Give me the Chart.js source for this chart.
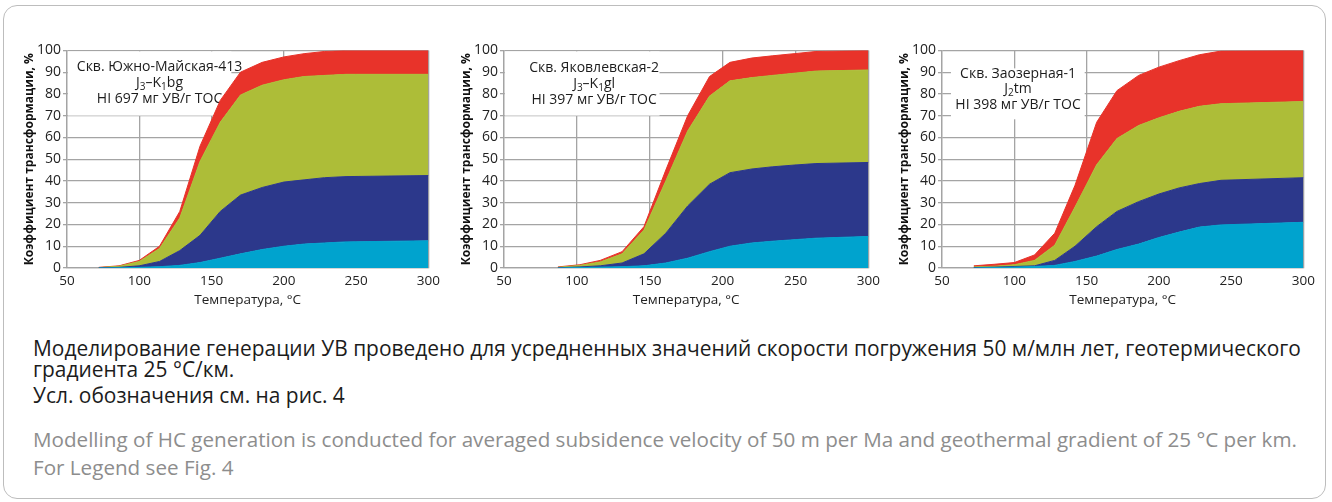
<!DOCTYPE html>
<html>
<head>
<meta charset="utf-8">
<script src="https://cdn.jsdelivr.net/npm/chart.js@4.4.1/dist/chart.umd.min.js"></script>
<style>
  html, body { margin: 0; padding: 0; background: #fff; }
  body { width: 1332px; height: 502px; position: relative; overflow: hidden; font-family: "Open Sans", sans-serif; }
  .frame { position: absolute; left: 3px; top: 5px; width: 1323px; height: 494px; border: 1.5px solid #bdbdbd; border-radius: 14px; box-sizing: border-box; }
  .panel { position: absolute; top: 40px; }
  .panel canvas { display: block; }
  .cap { position: absolute; left: 33px; white-space: nowrap; line-height: 1; }
  .ru { color: #1c1c1c; }
  .en { color: #8d8d8d; }
</style>
</head>
<body>
<div class="frame"></div>
<div class="panel" style="left:20px"><canvas id="c1" width="425" height="270"></canvas></div>
<div class="panel" style="left:457px"><canvas id="c2" width="428" height="270"></canvas></div>
<div class="panel" style="left:895px"><canvas id="c3" width="425" height="270"></canvas></div>

<div class="cap ru" id="ru1">Моделирование генерации УВ проведено для усредненных значений скорости погружения 50 м/млн лет, геотермического</div>
<div class="cap ru" id="ru2">градиента 25 °С/км.</div>
<div class="cap ru" id="ru3">Усл. обозначения см. на рис. 4</div>
<div class="cap en" id="en1">Modelling of HC generation is conducted for averaged subsidence velocity of 50 m per Ma and geothermal gradient of 25 °C per km.</div>
<div class="cap en" id="en2">For Legend see Fig. 4</div>

<script>
// Axis ticks shared by all three panels
const xTicks = [50, 100, 150, 200, 250, 300];
const yTicks = [0, 10, 20, 30, 40, 50, 60, 70, 80, 90, 100];

// Cumulative transformation ratio (%) — upper edge of each band, bottom to top
// Скв. Южно-Майская-413
const ymTemp  = [72, 86, 100, 114, 128, 142, 156, 170, 185, 200, 214, 228, 243, 300];
const ymCyan  = [0, 0.1, 0.3, 0.6, 1.2, 2.5, 4.5, 6.5, 8.5, 10, 11, 11.5, 12, 12.5];
const ymBlue  = [0.1, 0.3, 1, 3, 8, 15, 26, 33.5, 37, 39.5, 40.5, 41.5, 42, 42.5];
const ymGreen = [0.2, 0.8, 3, 9, 23, 49, 67, 79.5, 84, 86.5, 88, 88.5, 89, 89];
const ymRed   = [0.3, 1, 3.5, 10, 26, 56, 77, 90, 94.5, 97, 98.5, 99.5, 100, 100];

// Скв. Яковлевская-2
const jvTemp  = [87, 102, 116, 131, 146, 161, 176, 191, 205, 220, 234, 249, 264, 300];
const jvCyan  = [0, 0.2, 0.4, 0.6, 1, 2.3, 4.5, 7.5, 10, 11.5, 12.3, 13, 13.7, 14.5];
const jvBlue  = [0.1, 0.5, 1, 2.3, 6.5, 16, 28.5, 38.5, 43.8, 45.5, 46.5, 47.3, 48, 48.5];
const jvGreen = [0.3, 1.2, 2.8, 6.5, 17.5, 40, 63, 79, 86, 87.5, 88.5, 89.5, 90.5, 91];
const jvRed   = [0.5, 1.5, 3.5, 7.5, 19, 45, 70, 88, 94.5, 96.5, 97.5, 98.5, 99.5, 100];

// Скв. Заозерная-1
const zoTemp  = [72, 86, 100, 114, 128, 142, 157, 171, 186, 200, 214, 228, 243, 300];
const zoCyan  = [0, 0.2, 0.4, 0.7, 1.2, 3, 5.5, 8.5, 11, 14, 16.5, 18.8, 19.8, 21];
const zoBlue  = [0.2, 0.4, 0.7, 1, 3.5, 10, 19, 26, 30.5, 34, 36.8, 38.8, 40.3, 41.5];
const zoGreen = [0.5, 0.8, 1.5, 3.5, 10.5, 28, 47.5, 59.5, 65.5, 69, 72, 74.3, 75.5, 76.5];
const zoRed   = [1, 1.7, 2.5, 6, 16, 38, 67, 81.5, 88.5, 92.3, 95.3, 98, 99.7, 100];

const bandColors = ['#00A3CE', '#2C388B', '#ADBD38', '#E8332A'];
const GRID = '#a4a4a4';
const FONT = '"Open Sans", sans-serif';

function bands(temp, tops) {
  return tops.map((top, i) => ({
    data: temp.map((t, j) => ({ x: t, y: top[j] })),
    backgroundColor: bandColors[i],
    borderColor: bandColors[i],
    borderWidth: 1,
    pointRadius: 0,
    tension: 0,
    fill: i === 0 ? 'origin' : '-1'
  }));
}

// White caption box sitting over the grid but under the areas
const insetBox = {
  id: 'insetBox',
  beforeDatasetsDraw(chart, args, opts) {
    const { ctx, scales: { x, y } } = chart;
    const x0 = x.getPixelForValue(opts.box[0]), x1 = x.getPixelForValue(opts.box[1]);
    const y0 = y.getPixelForValue(opts.box[3]), y1 = y.getPixelForValue(opts.box[2]);
    ctx.save();
    ctx.fillStyle = '#fff';
    ctx.fillRect(x0 + 1, y0 + 1, x1 - x0, y1 - y0);
    const cx = x.getPixelForValue(opts.center);
    ctx.fillStyle = '#1c1c1c';
    ctx.textBaseline = 'middle';
    opts.lines.forEach((line, k) => {
      const cy = y.getPixelForValue(opts.rows[k]);
      // each line is a list of [text, isSubscript]
      const parts = line.map(([t, sub]) => {
        ctx.font = (sub ? '10px ' : '14px ') + FONT;
        return { t, sub, w: ctx.measureText(t).width };
      });
      const total = parts.reduce((s, p) => s + p.w, 0);
      let px = cx - total / 2;
      ctx.textAlign = 'left';
      parts.forEach(p => {
        ctx.font = (p.sub ? '10px ' : '14px ') + FONT;
        ctx.fillText(p.t, px, cy + (p.sub ? 4 : 0));
        px += p.w;
      });
    });
    ctx.restore();
  }
};

function scales() {
  return {
    x: {
      type: 'linear', min: 50, max: 300,
      afterBuildTicks(s) { s.ticks = xTicks.map(v => ({ value: v })); },
      ticks: { color: '#222', font: { family: FONT, size: 13.5 }, padding: 5, maxRotation: 0, autoSkip: false },
      grid: { color: GRID, lineWidth: 1.3, drawTicks: false },
      border: { color: GRID, width: 1.3 },
      title: { display: true, text: 'Температура, °С', color: '#222', font: { family: FONT, size: 13.5 }, padding: { top: 0, bottom: 2 } },
      afterFit(s) { s.height = 42; }
    },
    y: {
      min: 0, max: 100,
      afterBuildTicks(s) { s.ticks = yTicks.map(v => ({ value: v })); },
      ticks: { color: '#222', font: { family: FONT, size: 14 }, padding: 2 },
      grid: { color: GRID, lineWidth: 1.3, drawTicks: true, tickLength: 4 },
      border: { color: GRID, width: 1.3 },
      title: { display: true, text: 'Коэффициент трансформации, %', color: '#111', font: { family: FONT, size: 12, weight: 'bold' }, padding: { top: 2, bottom: 2 } },
      afterFit(s) { s.width = 47; }
    }
  };
}

function panel(id, temp, tops, inset) {
  new Chart(document.getElementById(id), {
    type: 'line',
    data: { datasets: bands(temp, tops) },
    options: {
      responsive: false,
      animation: false,
      layout: { padding: { top: 10, right: 12, left: 0, bottom: 0 } },
      plugins: { legend: { display: false }, tooltip: { enabled: false }, insetBox: inset },
      scales: scales()
    },
    plugins: [insetBox]
  });
}

panel('c1', ymTemp, [ymCyan, ymBlue, ymGreen, ymRed], {
  box: [50, 163, 70.5, 100], center: 114, rows: [92.3, 84.9, 77.5],
  lines: [[['Скв. Южно-Майская-413', false]],
          [['J', false], ['3', true], ['–K', false], ['1', true], ['bg', false]],
          [['HI 697 мг УВ/г ТОС', false]]]
});
panel('c2', jvTemp, [jvCyan, jvBlue, jvGreen, jvRed], {
  box: [50, 156, 70.5, 100], center: 111.8, rows: [91.8, 84.5, 77.3],
  lines: [[['Скв. Яковлевская-2', false]],
          [['J', false], ['3', true], ['–K', false], ['1', true], ['gl', false]],
          [['HI 397 мг УВ/г ТОС', false]]]
});
panel('c3', zoTemp, [zoCyan, zoBlue, zoGreen, zoRed], {
  box: [55.5, 148, 68.8, 92.2], center: 102.6, rows: [89.3, 82.4, 74.8],
  lines: [[['Скв. Заозерная-1', false]],
          [['J', false], ['2', true], ['tm', false]],
          [['HI 398 мг УВ/г ТОС', false]]]
});

// Caption block: size each group so its first line spans the text column
(function () {
  const m = document.createElement('canvas').getContext('2d');
  function sizeFor(el, target) {
    m.font = '100px "Open Sans"';
    return 100 * target / m.measureText(el.textContent).width;
  }
  const ruSize = sizeFor(document.getElementById('ru1'), 1269);
  const enSize = sizeFor(document.getElementById('en1'), 1265);
  const place = [['ru1', ruSize, 350], ['ru2', ruSize, 371], ['ru3', ruSize, 397],
                 ['en1', enSize, 440], ['en2', enSize, 468]];
  place.forEach(([id, size, cy]) => {
    const el = document.getElementById(id);
    el.style.fontSize = size + 'px';
    el.style.top = (cy - size * 0.55) + 'px';
  });
})();
</script>
</body>
</html>
